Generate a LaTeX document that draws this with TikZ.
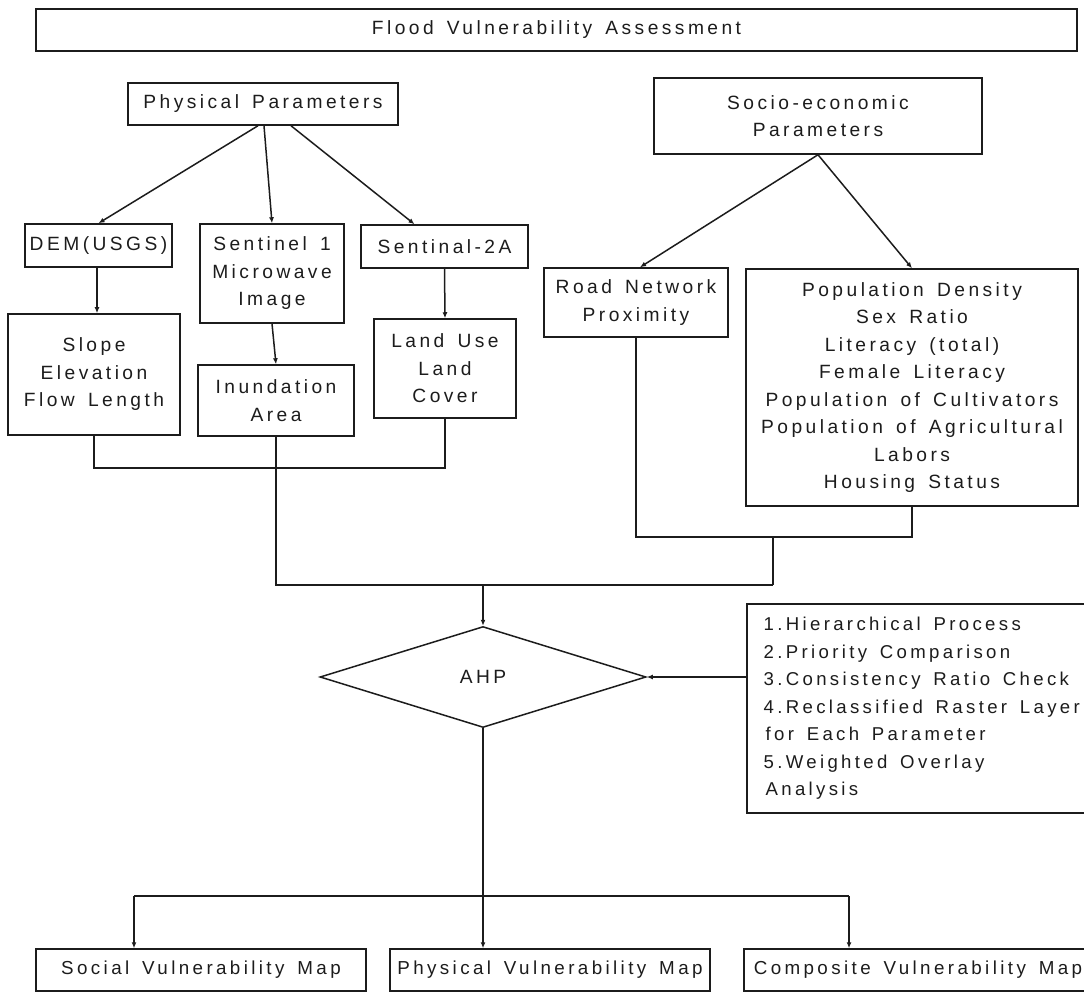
\documentclass[tikz,border=0pt]{standalone}
\usepackage{fontspec}
\setmainfont{Liberation Sans}[LetterSpace=18,WordSpace=1.5]
\usetikzlibrary{arrows.meta,shapes.geometric,calc}
\definecolor{ink}{HTML}{1C1C1C}
\begin{document}
\begin{tikzpicture}[x=1pt,y=-1pt,
  every node/.style={font=\fontsize{19.2}{27.5}\selectfont, text=ink},
  box/.style={draw=ink, line width=1.5pt, inner sep=0pt, align=center},
  outbox/.style={box, minimum height=42, font=\fontsize{18.8}{27.5}\selectfont},
  line/.style={draw=ink, line width=1.5pt},
  arr/.style={line, -{Latex[length=6pt,width=5pt]}}]
\useasboundingbox (0,0) rectangle (1084,992);
\clip (0,0) rectangle (1084,992);

\node[box, minimum width=1041, minimum height=42] (title) at (556.5,30) {Flood Vulnerability Assessment};
\node[box, minimum width=270, minimum height=42] (phys) at (263,104) {Physical Parameters};
\node[box, minimum width=328, minimum height=76] (socio) at (818,116) {Socio-economic\\Parameters};

\node[box, minimum width=147, minimum height=43] (dem) at (98.5,245.5) {DEM(USGS)};
\node[box, minimum width=144, minimum height=99] (sen1) at (272,273.5) {Sentinel 1\\Microwave\\Image};
\node[box, minimum width=167, minimum height=43] (sen2) at (444.5,246.5) {Sentinal-2A};
\node[box, minimum width=172, minimum height=121] (slope) at (94,374.5) {Slope\\Elevation\\Flow Length};
\node[box, minimum width=156, minimum height=71] (inund) at (276,400.5) {Inundation\\Area};
\node[box, minimum width=142, minimum height=99] (landuse) at (445,368.5) {Land Use\\Land\\Cover};

\node[box, minimum width=184, minimum height=69] (road) at (636,302.5) {Road Network\\Proximity};
\node[box, minimum width=332, minimum height=237] (pop) at (912,387.5) {Population Density\\Sex Ratio\\Literacy (total)\\Female Literacy\\Population of Cultivators\\Population of Agricultural\\Labors\\Housing Status};

\node[draw=ink, line width=1.5pt, diamond, minimum width=326, minimum height=101, inner sep=0pt] (ahp) at (483,677) {AHP};

\node[box, anchor=north west, align=left, inner sep=0pt, minimum width=350, minimum height=209, font=\fontsize{18.6}{27.5}\selectfont] (steps) at (746,603)
 {1.Hierarchical Process\\2.Priority Comparison\\3.Consistency Ratio Check\\4.Reclassified Raster Layer\\\hspace*{2pt}for Each Parameter\\5.Weighted Overlay\\\hspace*{2pt}Analysis};

\node[outbox, minimum width=330] (social) at (201,970) {Social Vulnerability Map};
\node[outbox, minimum width=320] (physmap) at (550,970) {Physical Vulnerability Map};
\node[outbox, minimum width=348] (compmap) at (918,970) {Composite Vulnerability Map};

% physical branch
\draw[arr] ($(phys.south)+(-5,0)$) -- (dem.north);
\draw[arr] ($(phys.south)+(1,0)$) -- (sen1.north);
\draw[arr] ($(phys.south)+(28,0)$) -- ($(sen2.north)+(-30,0)$);
\draw[arr] ($(dem.south)+(-1.5,0)$) -- ($(dem.south |- slope.north)+(-1.5,0)$);
\draw[arr] (sen1.south) -- (inund.north);
\draw[arr] (sen2.south) -- (landuse.north);

% socio branch
\draw[arr] (socio.south) -- ($(road.north)+(4,0)$);
\draw[arr] (socio.south) -- (pop.north);

% joins
\coordinate (m1) at (773,537);
\coordinate (m2) at (773,585);
\coordinate (m3) at (483,585);
\draw[line] (slope.south) -- ++(0,32) -| (landuse.south);
\draw[line] (inund.south) |- (m2);
\draw[line] (road.south) |- (m1) -- (m2);
\draw[line] (pop.south) |- (m1);
\draw[arr] (m3) -- (ahp.north);
\draw[arr] (steps.west |- ahp.east) -- (ahp.east);

% outputs
\coordinate (bL) at (134,896);
\coordinate (bR) at (849,896);
\draw[line] (ahp.south) -- (ahp.south |- bL);
\draw[line] (bL) -- (bR);
\draw[arr] (bL) -- (bL |- social.north);
\draw[arr] (ahp.south |- bL) -- (ahp.south |- physmap.north);
\draw[arr] (bR) -- (bR |- compmap.north);
\end{tikzpicture}
\end{document}
